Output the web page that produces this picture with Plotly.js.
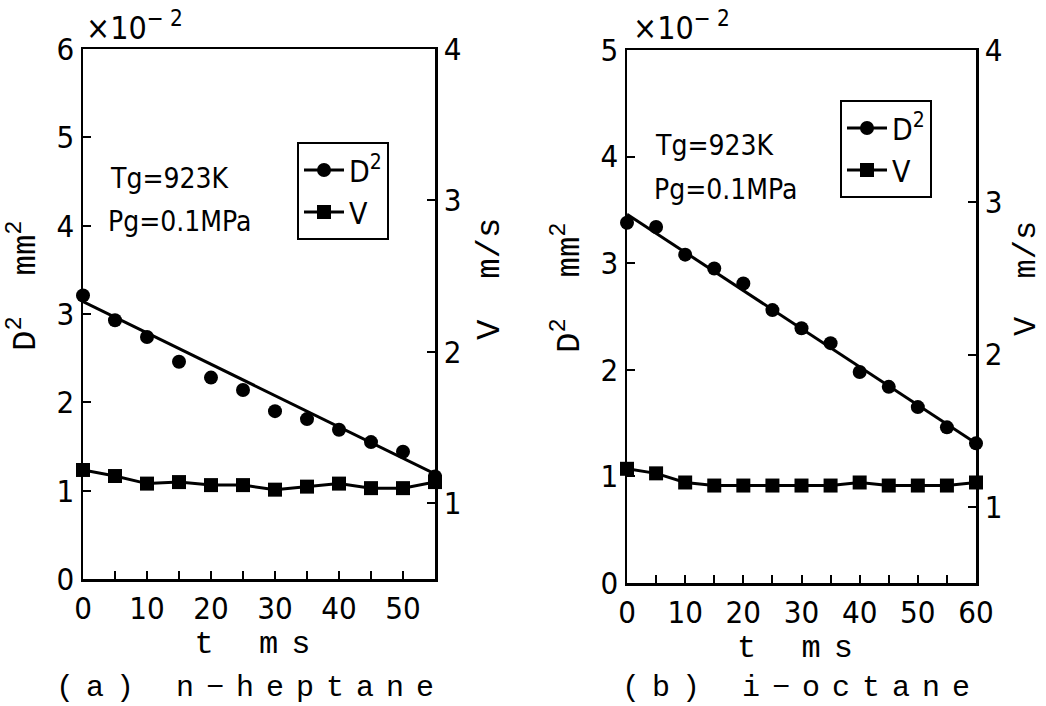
<!DOCTYPE html>
<html>
<head>
<meta charset="utf-8">
<script src="https://cdn.plot.ly/plotly-3.0.1.min.js"></script>
<style>
  html, body { margin: 0; padding: 0; background: #fff; }
  #chart { width: 1046px; height: 706px; }
  svg text { font-stretch: condensed; }
  .xtitle, .x2title { letter-spacing: 13px; }
  text.annotation-text[data-unformatted*="heptane"],
  text.annotation-text[data-unformatted*="octane"] { letter-spacing: 12px; }
</style>
</head>
<body>
<div id="chart"></div>
<script>
// ---------- data ----------
// (a) n-heptane
const tA   = [0, 5, 10, 15, 20, 25, 30, 35, 40, 45, 50, 55];            // ms
const d2A  = [3.21, 2.93, 2.74, 2.46, 2.28, 2.14, 1.90, 1.81, 1.69, 1.55, 1.44, 1.16]; // x10^-2 mm^2
const vA   = [1.22, 1.18, 1.13, 1.14, 1.12, 1.12, 1.09, 1.11, 1.13, 1.10, 1.10, 1.14]; // m/s
const fitTA = [0, 55];
const fitDA = [3.14, 1.19];

// (b) i-octane
const tB   = [0, 5, 10, 15, 20, 25, 30, 35, 40, 45, 50, 55, 60];
const d2B  = [3.38, 3.34, 3.08, 2.95, 2.81, 2.56, 2.39, 2.25, 1.98, 1.84, 1.65, 1.46, 1.31];
const vB   = [1.25, 1.22, 1.16, 1.14, 1.14, 1.14, 1.14, 1.14, 1.16, 1.14, 1.14, 1.14, 1.16];
const fitTB = [0, 60];
const fitDB = [3.46, 1.31];

const seriesNames = ['D<sup>2</sup>', 'V'];
const panelLabels = ['(a) n\u2212heptane', '(b) i\u2212octane'];
const condLabels  = ['Tg=923K', 'Pg=0.1MPa'];

// ---------- styling ----------
const NARROW = '"DejaVu Sans", sans-serif';
const MONO = '"Liberation Mono", "DejaVu Sans Mono", monospace';
const BLACK = '#000';
const W = 1046, H = 706;
const px = v => v / W;
const py = v => 1 - v / H;

function panelTraces(t, d2, v, fitT, fitD, xa, ya, ya2, leg) {
  return [
    { x: fitT, y: fitD, xaxis: xa, yaxis: ya, mode: 'lines', showlegend: false,
      line: { color: BLACK, width: 3 }, cliponaxis: false, hoverinfo: 'skip' },
    { x: t, y: d2, xaxis: xa, yaxis: ya, mode: 'markers', showlegend: false, name: seriesNames[0],
      marker: { symbol: 'circle', size: 14, color: BLACK }, cliponaxis: false },
    { x: [null], y: [null], xaxis: xa, yaxis: ya, mode: 'lines+markers', name: seriesNames[0],
      legend: leg, line: { color: BLACK, width: 3 }, marker: { symbol: 'circle', size: 14, color: BLACK } },
    { x: t, y: v, xaxis: xa, yaxis: ya2, mode: 'lines+markers', name: seriesNames[1], legend: leg,
      line: { color: BLACK, width: 3 }, marker: { symbol: 'square', size: 14, color: BLACK }, cliponaxis: false }
  ];
}

const data = [
  ...panelTraces(tA, d2A, vA, fitTA, fitDA, 'x', 'y', 'y2', 'legend'),
  ...panelTraces(tB, d2B, vB, fitTB, fitDB, 'x2', 'y3', 'y4', 'legend2')
];

const tickFont = { family: NARROW, size: 31, color: BLACK };
const axCommon = {
  showgrid: false, zeroline: false, showline: true, linecolor: BLACK, linewidth: 2.5,
  ticks: 'inside', ticklen: 8, tickwidth: 2, tickcolor: BLACK, tickfont: tickFont
};
const xTitle = { text: 't ms', font: { family: MONO, size: 32, color: BLACK }, standoff: 6 };

const layout = {
  width: W, height: H,
  margin: { l: 0, r: 0, t: 0, b: 0 },
  paper_bgcolor: '#fff', plot_bgcolor: '#fff',
  font: { family: NARROW, color: BLACK },
  xaxis: Object.assign({}, axCommon, {
    domain: [px(83), px(435)], anchor: 'y', range: [0, 55], tick0: 0, dtick: 10, mirror: true,
    minor: { dtick: 5, tick0: 0, ticks: 'inside', ticklen: 8, tickwidth: 2, tickcolor: BLACK },
    title: xTitle
  }),
  yaxis: Object.assign({}, axCommon, {
    domain: [py(579), py(49)], anchor: 'x', range: [0, 6], dtick: 1, tick0: 0
  }),
  yaxis2: Object.assign({}, axCommon, {
    overlaying: 'y', side: 'right', anchor: 'x', range: [0.5, 4], tickvals: [1, 2, 3, 4]
  }),
  xaxis2: Object.assign({}, axCommon, {
    domain: [px(627), px(976)], anchor: 'y3', range: [0, 60], tick0: 0, dtick: 10, mirror: true,
    minor: { dtick: 5, tick0: 0, ticks: 'inside', ticklen: 8, tickwidth: 2, tickcolor: BLACK },
    title: xTitle
  }),
  yaxis3: Object.assign({}, axCommon, {
    domain: [py(583), py(50)], anchor: 'x2', range: [0, 5], dtick: 1, tick0: 0
  }),
  yaxis4: Object.assign({}, axCommon, {
    overlaying: 'y3', side: 'right', anchor: 'x2', range: [0.5, 4], tickvals: [1, 2, 3, 4]
  }),
  legend: {
    x: px(297), y: py(142), xanchor: 'left', yanchor: 'top',
    bgcolor: '#fff', bordercolor: BLACK, borderwidth: 2,
    font: { family: NARROW, size: 30, color: BLACK }, itemwidth: 40, traceorder: 'normal'
  },
  legend2: {
    x: px(840), y: py(100), xanchor: 'left', yanchor: 'top',
    bgcolor: '#fff', bordercolor: BLACK, borderwidth: 2,
    font: { family: NARROW, size: 30, color: BLACK }, itemwidth: 40, traceorder: 'normal'
  },
  annotations: [
    // exponent labels
    { xref: 'paper', yref: 'paper', x: px(84), y: py(26), xanchor: 'left', yanchor: 'middle',
      text: '\u00d710<sup>\u2212 2</sup>', showarrow: false, font: { family: NARROW, size: 32, color: BLACK } },
    { xref: 'paper', yref: 'paper', x: px(631), y: py(26), xanchor: 'left', yanchor: 'middle',
      text: '\u00d710<sup>\u2212 2</sup>', showarrow: false, font: { family: NARROW, size: 32, color: BLACK } },
    // conditions
    { xref: 'paper', yref: 'paper', x: px(108), y: py(178), xanchor: 'left', yanchor: 'middle',
      text: condLabels[0], showarrow: false, font: { family: NARROW, size: 28, color: BLACK } },
    { xref: 'paper', yref: 'paper', x: px(106), y: py(221), xanchor: 'left', yanchor: 'middle',
      text: condLabels[1], showarrow: false, font: { family: NARROW, size: 28, color: BLACK } },
    { xref: 'paper', yref: 'paper', x: px(653), y: py(145), xanchor: 'left', yanchor: 'middle',
      text: condLabels[0], showarrow: false, font: { family: NARROW, size: 28, color: BLACK } },
    { xref: 'paper', yref: 'paper', x: px(652), y: py(190), xanchor: 'left', yanchor: 'middle',
      text: condLabels[1], showarrow: false, font: { family: NARROW, size: 28, color: BLACK } },
    // y titles
    { xref: 'paper', yref: 'paper', x: px(23), y: py(286), textangle: -90, xanchor: 'center', yanchor: 'middle',
      text: 'D<sup>2</sup>  mm<sup>2</sup>', showarrow: false, font: { family: MONO, size: 34, color: BLACK } },
    { xref: 'paper', yref: 'paper', x: px(490), y: py(279), textangle: -90, xanchor: 'center', yanchor: 'middle',
      text: 'V  m/s', showarrow: false, font: { family: MONO, size: 34, color: BLACK } },
    { xref: 'paper', yref: 'paper', x: px(567), y: py(288), textangle: -90, xanchor: 'center', yanchor: 'middle',
      text: 'D<sup>2</sup>  mm<sup>2</sup>', showarrow: false, font: { family: MONO, size: 34, color: BLACK } },
    { xref: 'paper', yref: 'paper', x: px(1026), y: py(279), textangle: -90, xanchor: 'center', yanchor: 'middle',
      text: 'V  m/s', showarrow: false, font: { family: MONO, size: 32, color: BLACK } },
    // panel labels
    { xref: 'paper', yref: 'paper', x: px(251), y: py(688), xanchor: 'center', yanchor: 'middle',
      text: panelLabels[0], showarrow: false, font: { family: MONO, size: 30, color: BLACK } },
    { xref: 'paper', yref: 'paper', x: px(802), y: py(688), xanchor: 'center', yanchor: 'middle',
      text: panelLabels[1], showarrow: false, font: { family: MONO, size: 30, color: BLACK } }
  ]
};

Plotly.newPlot('chart', data, layout, { staticPlot: true, displayModeBar: false });
</script>
</body>
</html>
